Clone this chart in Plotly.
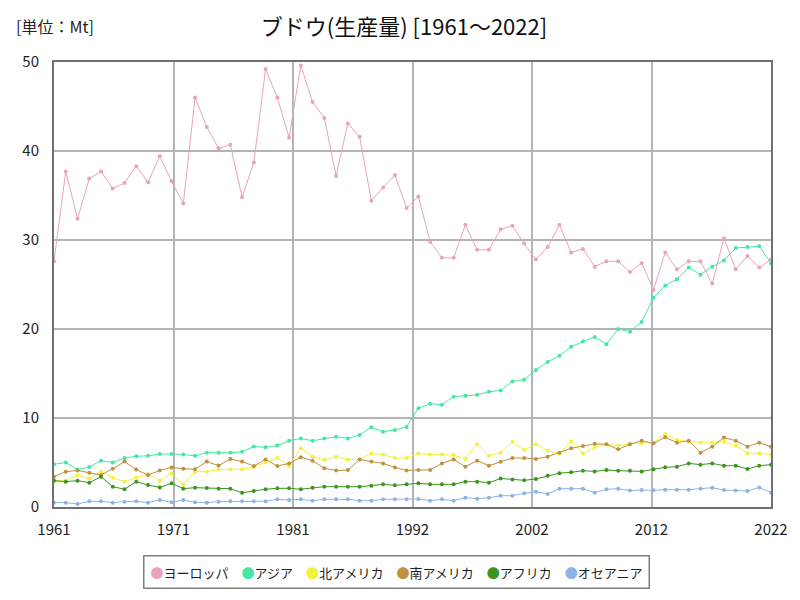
import plotly.graph_objects as go

years = list(range(1961, 2023))

europe = [27.6, 37.7, 32.4, 36.9, 37.7, 35.8, 36.4, 38.3, 36.5, 39.4,
          36.6, 34.1, 46.0, 42.7, 40.3, 40.7, 34.8, 38.7, 49.2, 46.0,
          41.5, 49.6, 45.5, 43.7, 37.2, 43.1, 41.6, 34.4, 35.9, 37.3,
          33.6, 34.9, 29.8, 28.0, 28.0, 31.7, 28.9, 28.9, 31.2, 31.6,
          29.6, 27.8, 29.2, 31.7, 28.6, 29.0, 27.0, 27.6, 27.6, 26.4,
          27.4, 24.4, 28.6, 26.7, 27.6, 27.6, 25.1, 30.2, 26.7, 28.2,
          26.9, 27.8]
asia = [4.8, 5.0, 4.2, 4.5, 5.2, 5.0, 5.5, 5.7, 5.75, 5.95,
        5.95, 5.9, 5.75, 6.1, 6.1, 6.1, 6.2, 6.8, 6.7, 6.9,
        7.45, 7.7, 7.45, 7.7, 7.9, 7.7, 8.1, 8.95, 8.46, 8.65,
        9.0, 11.1, 11.6, 11.5, 12.4, 12.5, 12.6, 12.95, 13.1, 14.1,
        14.3, 15.4, 16.3, 17.0, 18.0, 18.6, 19.1, 18.3, 20.0, 19.7,
        20.8, 23.5, 24.9, 25.6, 26.9, 26.1, 27.0, 27.7, 29.1, 29.2,
        29.3, 27.4]
north_america = [2.96, 2.96, 3.6, 3.2, 3.97, 3.3, 2.85, 3.3, 3.7, 2.96,
                 3.8, 2.5, 3.97, 3.97, 4.2, 4.25, 4.25, 4.5, 5.0, 5.5,
                 4.6, 6.6, 5.66, 5.3, 5.66, 5.35, 5.35, 6.0, 5.9, 5.5,
                 5.5, 6.0, 5.9, 5.9, 5.84, 5.4, 7.04, 5.77, 6.1, 7.34,
                 6.4, 7.04, 6.33, 6.0, 7.4, 6.0, 6.7, 7.04, 6.89, 7.08,
                 7.15, 7.23, 8.2, 7.53, 7.34, 7.26, 7.26, 7.34, 6.89, 6.03,
                 6.03, 5.9]
south_america = [3.4, 3.97, 4.1, 3.85, 3.6, 4.3, 5.1, 4.2, 3.6, 4.1,
                 4.45, 4.3, 4.25, 5.1, 4.65, 5.4, 5.1, 4.6, 5.35, 4.6,
                 4.9, 5.6, 5.2, 4.35, 4.1, 4.15, 5.35, 5.1, 4.9, 4.45,
                 4.1, 4.16, 4.16, 4.9, 5.35, 4.53, 5.2, 4.64, 5.09, 5.5,
                 5.5, 5.4, 5.66, 6.1, 6.6, 6.85, 7.1, 7.04, 6.48, 7.04,
                 7.45, 7.15, 7.83, 7.23, 7.45, 6.1, 6.78, 7.8, 7.45, 6.78,
                 7.23, 6.78]
africa = [2.96, 2.85, 2.96, 2.73, 3.4, 2.28, 2.0, 2.85, 2.47, 2.2,
          2.66, 2.06, 2.17, 2.13, 2.06, 2.06, 1.6, 1.8, 2.0, 2.1,
          2.1, 2.0, 2.17, 2.28, 2.28, 2.28, 2.28, 2.4, 2.55, 2.43,
          2.55, 2.66, 2.55, 2.55, 2.55, 2.85, 2.85, 2.73, 3.2, 3.1,
          3.0, 3.15, 3.5, 3.8, 3.9, 4.08, 4.0, 4.16, 4.08, 4.08,
          4.0, 4.23, 4.46, 4.53, 4.9, 4.76, 4.9, 4.64, 4.64, 4.27,
          4.64, 4.76]
oceania = [0.49, 0.49, 0.34, 0.64, 0.64, 0.49, 0.6, 0.64, 0.49, 0.79,
           0.53, 0.79, 0.53, 0.49, 0.6, 0.64, 0.64, 0.64, 0.64, 0.86,
           0.79, 0.86, 0.71, 0.86, 0.86, 0.86, 0.71, 0.71, 0.86, 0.86,
           0.86, 0.9, 0.71, 0.86, 0.71, 1.05, 0.94, 1.05, 1.27, 1.27,
           1.54, 1.72, 1.46, 2.06, 2.06, 2.06, 1.61, 1.99, 2.06, 1.84,
           1.9, 1.87, 1.95, 1.95, 1.95, 2.06, 2.17, 1.9, 1.84, 1.8,
           2.2, 1.61]

series = [
    ('ヨーロッパ', europe, '#E9A3BA'),
    ('アジア', asia, '#44E8A2'),
    ('北アメリカ', north_america, '#F2F23A'),
    ('南アメリカ', south_america, '#C0913F'),
    ('アフリカ', africa, '#3A961C'),
    ('オセアニア', oceania, '#8DB3E8'),
]

# grid every 61/6 years, labels rounded
tick_vals = [1961 + k * 61 / 6 for k in range(7)]
tick_text = [str(round(v)) for v in tick_vals]

font_family = 'Noto Sans CJK JP'

fig = go.Figure()
for name, values, color in series:
    fig.add_trace(go.Scatter(
        x=years,
        y=values,
        name=name,
        mode='lines+markers',
        line=dict(color=color, width=1),
        marker=dict(color=color, size=4),
        showlegend=False,
    ))

# compact legend (dot + name) as one boxed annotation
legend_text = '\u3000'.join(
    f'<span style="color:{color}">●</span>{name}' for name, _, color in series
)

# page has an 8px body margin, so the figure is drawn 8px smaller
fig.update_layout(
    width=792,
    height=592,
    paper_bgcolor='white',
    plot_bgcolor='white',
    font=dict(family=font_family, color='#222222', size=15),
    title=dict(text='ブドウ(生産量) [1961～2022]', x=0.5, xanchor='center',
               y=0.967, yanchor='middle', font=dict(size=22, color='#111111')),
    margin=dict(l=46, r=29, t=54, b=93),
    showlegend=False,
    annotations=[
        dict(text='[単位：Mt]', xref='paper', yref='paper', x=-0.056, y=1.08,
             xanchor='left', yanchor='middle', showarrow=False,
             font=dict(size=16, color='#222222')),
        dict(text=legend_text, xref='paper', yref='paper', x=0.478, y=-0.146,
             xanchor='center', yanchor='middle', showarrow=False,
             font=dict(size=13, color='#222222'),
             bordercolor='#808080', borderwidth=1.5, borderpad=6, bgcolor='white'),
    ],
)

fig.update_xaxes(range=[1961, 2022], tickmode='array', tickvals=tick_vals, ticktext=tick_text,
                 showgrid=True, gridcolor='#B4B4B4', gridwidth=1.5,
                 showline=True, linecolor='#707070', linewidth=2, mirror=True,
                 ticks='', zeroline=False, ticklabelstandoff=8)
fig.update_yaxes(range=[0, 50], dtick=10,
                 showgrid=True, gridcolor='#B4B4B4', gridwidth=1.5,
                 showline=True, linecolor='#707070', linewidth=2, mirror=True,
                 ticks='', zeroline=False, ticklabelstandoff=10)

fig.write_html('out.html')
